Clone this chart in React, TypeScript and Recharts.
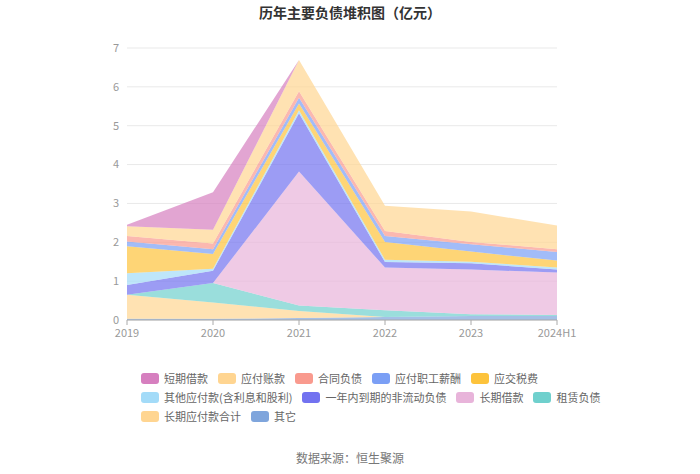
import { Area, AreaChart, CartesianGrid, XAxis, YAxis } from "recharts";

const years = ["2019", "2020", "2021", "2022", "2023", "2024H1"];
const yTicks = [0, 1, 2, 3, 4, 5, 6, 7];

// bottom of stack first
const qita = [0.03, 0.03, 0.05, 0.08, 0.1, 0.1];
const changqiYingfu = [0.62, 0.42, 0.18, 0, 0, 0];
const zulin = [0, 0.5, 0.14, 0.17, 0.05, 0.03];
const changqiJiekuan = [0, 0, 3.45, 1.1, 1.15, 1.09];
const yinianNei = [0.25, 0.32, 1.5, 0.14, 0.16, 0.08];
const qitaYingfu = [0.3, 0.05, 0.08, 0.06, 0.04, 0.05];
const yingjiaoShuifei = [0.7, 0.38, 0.17, 0.46, 0.26, 0.18];
const zhigongXinchou = [0.12, 0.12, 0.15, 0.15, 0.19, 0.22];
const hetongFuzhai = [0.14, 0.15, 0.17, 0.13, 0.06, 0.07];
const yingfuZhangkuan = [0.25, 0.35, 0.8, 0.65, 0.78, 0.61];
const duanqiJiekuan = [0.04, 0.97, 0, 0, 0, 0];

const series = [
  { key: "qita", name: "其它", values: qita, color: "#7fa5dc" },
  { key: "changqiYingfu", name: "长期应付款合计", values: changqiYingfu, color: "#ffd591" },
  { key: "zulin", name: "租赁负债", values: zulin, color: "#6fd0cd" },
  { key: "changqiJiekuan", name: "长期借款", values: changqiJiekuan, color: "#e8b4da" },
  { key: "yinianNei", name: "一年内到期的非流动负债", values: yinianNei, color: "#7272f0" },
  { key: "qitaYingfu", name: "其他应付款(含利息和股利)", values: qitaYingfu, color: "#a3dbf8" },
  { key: "yingjiaoShuifei", name: "应交税费", values: yingjiaoShuifei, color: "#fdc33c" },
  { key: "zhigongXinchou", name: "应付职工薪酬", values: zhigongXinchou, color: "#7b9ff5" },
  { key: "hetongFuzhai", name: "合同负债", values: hetongFuzhai, color: "#f99a8e" },
  { key: "yingfuZhangkuan", name: "应付账款", values: yingfuZhangkuan, color: "#ffd591" },
  { key: "duanqiJiekuan", name: "短期借款", values: duanqiJiekuan, color: "#d67fbf" },
];

const data = years.map((year, i) => {
  const row: Record<string, string | number> = { year };
  series.forEach((s) => {
    row[s.key] = s.values[i];
  });
  return row;
});

const font = '"Noto Sans CJK SC", "Noto Sans", sans-serif';

export default function App() {
  const legendItems = [...series].reverse();
  return (
    <div style={{ position: "absolute", left: 0, top: 0, width: 700, height: 474, background: "#fff", fontFamily: font }}>
      <div style={{ position: "absolute", top: 2, left: 0, width: 700, textAlign: "center", fontSize: 14, fontWeight: "bold", color: "#333" }}>
        历年主要负债堆积图（亿元）
      </div>
      <AreaChart width={700} height={474} data={data} margin={{ top: 48, right: 143, left: 96, bottom: 124 }}>
        <CartesianGrid vertical={false} stroke="#e9e9e9" />
        <XAxis
          dataKey="year"
          tick={{ fontSize: 11, fill: "#999", fontFamily: font }}
          axisLine={{ stroke: "#aaa" }}
          tickLine={{ stroke: "#aaa" }}
          tickSize={5}
          tickMargin={4}
          interval={0}
        />
        <YAxis
          width={31}
          domain={[0, 7]}
          ticks={yTicks}
          tick={{ fontSize: 11, fill: "#999", fontFamily: font }}
          axisLine={false}
          tickLine={false}
        />
        {series.map((s) => (
          <Area
            key={s.key}
            type="linear"
            dataKey={s.key}
            name={s.name}
            stackId="1"
            stroke="none"
            fill={s.color}
            fillOpacity={0.7}
            isAnimationActive={false}
          />
        ))}
      </AreaChart>
      <div style={{ position: "absolute", left: 141, top: 371, width: 470, display: "flex", flexWrap: "wrap", rowGap: 5, columnGap: 10 }}>
        {legendItems.map((s) => (
          <div key={s.key} style={{ display: "flex", alignItems: "center", height: 14 }}>
            <span style={{ display: "inline-block", width: 18, height: 11, borderRadius: 3, background: s.color, marginRight: 5 }} />
            <span style={{ fontSize: 11, color: "#666", whiteSpace: "nowrap" }}>{s.name}</span>
          </div>
        ))}
      </div>
      <div style={{ position: "absolute", top: 449, left: 0, width: 700, textAlign: "center", fontSize: 12, color: "#777" }}>
        数据来源：恒生聚源
      </div>
    </div>
  );
}
